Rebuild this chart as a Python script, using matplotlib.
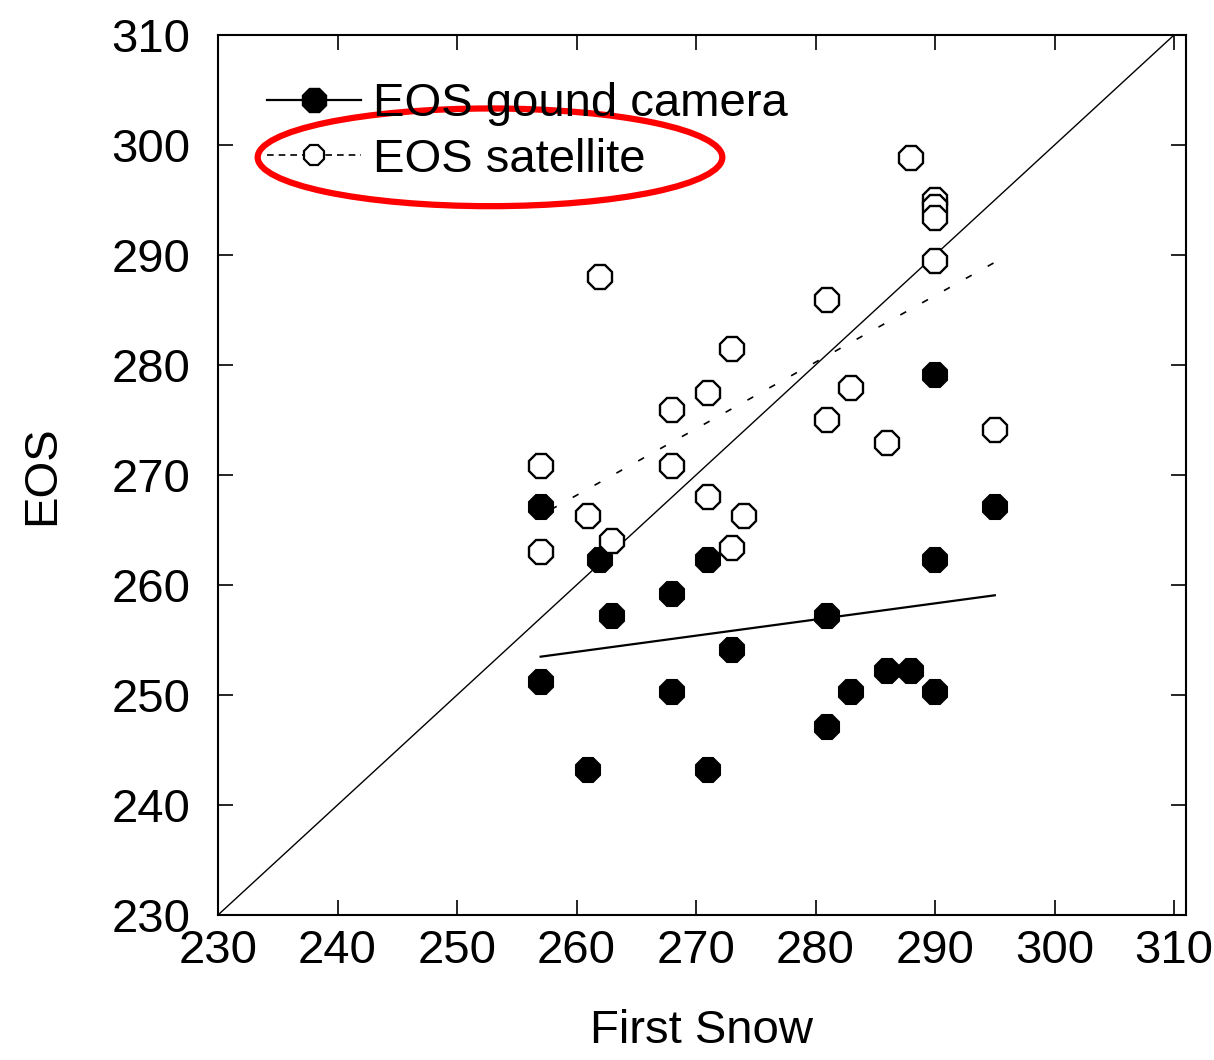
import matplotlib
matplotlib.use('Agg')
import matplotlib.pyplot as plt
from matplotlib.lines import Line2D
from matplotlib.patches import Ellipse
import numpy as np

plt.rcParams['font.family'] = ['Liberation Sans', 'DejaVu Sans']

# EOS from ground camera vs first snow
cam_x = [257, 257, 262, 263, 261, 268, 268, 271, 271, 273,
         281, 281, 283, 286, 288, 290, 290, 290, 295]
cam_y = [267.1, 251.2, 262.3, 257.2, 243.2, 259.2, 250.3, 262.3, 243.2, 254.1,
         257.2, 247.1, 250.3, 252.2, 252.2, 279.1, 262.3, 250.3, 267.1]

# EOS from satellite vs first snow
sat_x = [257, 257, 262, 261, 263, 268, 268, 271, 271, 273, 273,
         274, 281, 281, 283, 286, 288, 290, 290, 290, 290, 295]
sat_y = [270.8, 263.0, 288.0, 266.3, 264.0, 275.9, 270.8, 277.5, 268.0, 281.5, 263.4,
         266.3, 285.9, 275.0, 277.9, 272.9, 298.8, 295.0, 294.4, 293.4, 289.5, 274.1]

ticks = [230, 240, 250, 260, 270, 280, 290, 300, 310]
labels = ['EOS gound camera', 'EOS satellite']

fig = plt.figure(figsize=(12.14, 10.60), dpi=100)
ax = fig.add_axes([218/1214, 1 - 915/1060, (1186-218)/1214, (915-35)/1060])

# 1:1 line
ax.plot([230, 310], [230, 310], color='black', lw=1.0, zorder=1)

# linear fits
cx = np.array(cam_x); cy = np.array(cam_y)
sx = np.array(sat_x); sy = np.array(sat_y)
pc = np.polyfit(cx, cy, 1)
ps = np.polyfit(sx, sy, 1)
xc = np.array([cx.min(), cx.max()])
xs = np.array([sx.min(), sx.max()])
ax.plot(xc, np.polyval(pc, xc), color='black', lw=1.6, zorder=1)
ax.plot(xs, np.polyval(ps, xs), color='black', lw=1.2, ls=(8, (4, 11)), zorder=1)

ax.plot(cx, cy, ls='none', marker='8', ms=18, mfc='black', mec='black', mew=1.5, zorder=3)
ax.plot(sx, sy, ls='none', marker='8', ms=18, mfc='white', mec='black', mew=1.7, zorder=3)

ax.set_xlim(230, 311)
ax.set_ylim(230, 310)
ax.set_xticks(ticks)
ax.set_yticks(ticks)
ax.tick_params(direction='in', length=11, width=1.2, top=True, right=True,
               labelsize=34, pad=10)
ax.tick_params(axis='y', pad=20)
for s in ax.spines.values():
    s.set_linewidth(1.5)

ax.set_xlabel('First Snow', fontsize=34, labelpad=26)
ax.set_ylabel('EOS', fontsize=34, labelpad=34)

h1 = Line2D([], [], color='black', lw=1.6, marker='8', ms=19, mfc='black', mec='black')
h2 = Line2D([], [], color='black', lw=1.2, ls=(0, (4, 3)), marker='8', ms=15,
            mfc='white', mec='black', mew=1.6)
ax.legend([h1, h2], labels, loc='upper left', bbox_to_anchor=(0.031, 0.968),
          frameon=False, fontsize=34, handlelength=2.0, handletextpad=0.25,
          labelspacing=0.25, borderaxespad=0)

# red highlight around satellite entry
ax.add_patch(Ellipse((0.281, 0.861), 0.48, 0.111, transform=ax.transAxes,
                     fill=False, edgecolor='red', lw=4.5, clip_on=False, zorder=5))

fig.savefig('out.png', dpi=100)
